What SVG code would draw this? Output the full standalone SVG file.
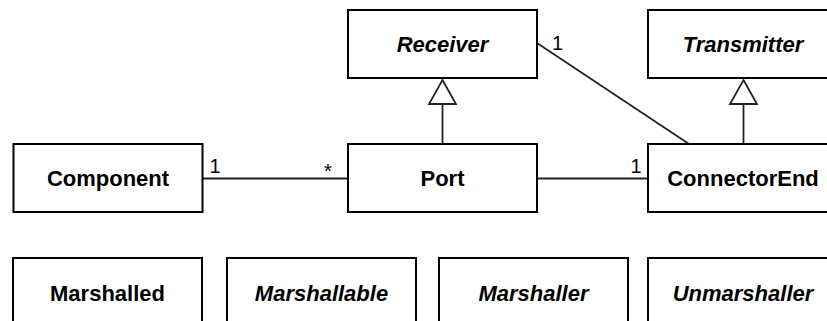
<svg xmlns="http://www.w3.org/2000/svg" width="827" height="321" viewBox="0 0 827 321">
<style>
.box{fill:#fff;stroke:#000;stroke-width:2}
.lbl{font-family:"Liberation Sans",Arial,sans-serif;font-size:22px;font-weight:bold;text-anchor:middle;fill:#000}
.it{font-style:italic}
.mult{font-family:"Liberation Sans",Arial,sans-serif;font-size:20px;text-anchor:middle;fill:#000}
.conn{fill:none;stroke:#222;stroke-width:1.8}
.gen{fill:#fff;stroke:#222;stroke-width:1.8}
</style>
<rect width="827" height="321" fill="#fff"/>
<g id="connectors">
<line class="conn" x1="203" y1="178.5" x2="348" y2="178.5"/>
<line class="conn" x1="537" y1="178.5" x2="648" y2="178.5"/>
<line class="conn" x1="537" y1="43" x2="689" y2="144"/>
<line class="conn" x1="442.5" y1="104" x2="442.5" y2="144"/>
<polygon class="gen" points="442.5,80 456,104 429,104"/>
<line class="conn" x1="743.5" y1="104" x2="743.5" y2="144"/>
<polygon class="gen" points="743.5,80 757,104 730,104"/>
<text class="mult" x="215" y="172.5">1</text>
<text class="mult" x="328" y="178">*</text>
<text class="mult" x="557.5" y="50">1</text>
<text class="mult" x="636" y="173">1</text>
</g>
<g id="receiver"><rect class="box" x="348" y="10" width="189" height="68"/><text class="lbl it" x="442.5" y="52">Receiver</text></g>
<g id="transmitter"><rect class="box" x="648" y="10" width="190" height="68"/><text class="lbl it" x="743" y="52">Transmitter</text></g>
<g id="component"><rect class="box" x="13.5" y="144" width="189" height="68"/><text class="lbl" x="108" y="186">Component</text></g>
<g id="port"><rect class="box" x="348" y="144" width="189" height="68"/><text class="lbl" x="442.5" y="186">Port</text></g>
<g id="connectorend"><rect class="box" x="648" y="144" width="190" height="68"/><text class="lbl" x="743" y="186">ConnectorEnd</text></g>
<g id="marshalled"><rect class="box" x="13" y="258" width="189" height="68"/><text class="lbl" x="107.5" y="300.5">Marshalled</text></g>
<g id="marshallable"><rect class="box" x="227" y="258" width="189" height="68"/><text class="lbl it" x="321.5" y="300.5">Marshallable</text></g>
<g id="marshaller"><rect class="box" x="439" y="258" width="189" height="68"/><text class="lbl it" x="533.5" y="300.5">Marshaller</text></g>
<g id="unmarshaller"><rect class="box" x="648" y="258" width="190" height="68"/><text class="lbl it" x="743" y="300.5">Unmarshaller</text></g>
</svg>
